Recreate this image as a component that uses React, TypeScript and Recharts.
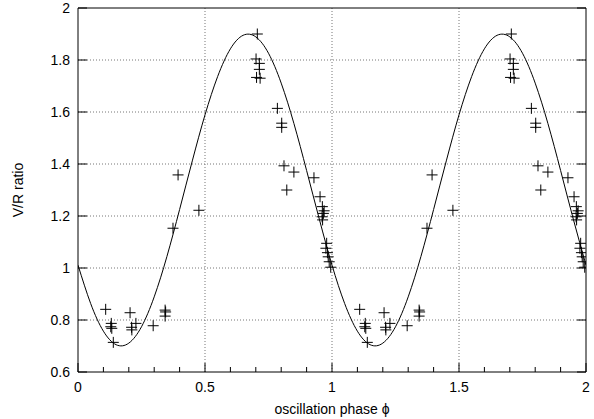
import React from "react";
import {
  ComposedChart,
  Line,
  Scatter,
  XAxis,
  YAxis,
  ReferenceLine,
} from "recharts";

// Model curve, every 0.05 in phase
const curveX = [
  0, 0.05, 0.1, 0.15, 0.2, 0.25, 0.3, 0.35, 0.4, 0.45, 0.5, 0.55, 0.6, 0.65, 0.7,
  0.75, 0.8, 0.85, 0.9, 0.95, 1.0, 1.05, 1.1, 1.15, 1.2, 1.25, 1.3, 1.35, 1.4,
  1.45, 1.5, 1.55, 1.6, 1.65, 1.7, 1.75, 1.8, 1.85, 1.9, 1.95, 2.0,
];
const curveY = [
  1.011, 0.863, 0.757, 0.705, 0.711, 0.774, 0.889, 1.044, 1.225, 1.412, 1.589,
  1.737, 1.843, 1.895, 1.889, 1.826, 1.711, 1.556, 1.375, 1.188, 1.011, 0.863,
  0.757, 0.705, 0.711, 0.774, 0.889, 1.044, 1.225, 1.412, 1.589, 1.737, 1.843,
  1.895, 1.889, 1.826, 1.711, 1.556, 1.375, 1.188, 1.011,
];

// Observed V/R ratios (first cycle)
const obsPhase1 = [
  0.109, 0.131, 0.129, 0.133, 0.139, 0.205, 0.211, 0.212, 0.228, 0.296, 0.343,
  0.345, 0.343, 0.374, 0.394, 0.476, 0.706, 0.701, 0.714, 0.714, 0.703, 0.717,
  0.785, 0.802, 0.802, 0.811, 0.85, 0.822, 0.929, 0.953, 0.962, 0.969, 0.966,
  0.961, 0.963, 0.979, 0.976, 0.982, 0.985, 0.989, 0.995,
];
const obsRatio1 = [
  0.841, 0.787, 0.774, 0.768, 0.714, 0.828, 0.772, 0.762, 0.787, 0.778, 0.838,
  0.831, 0.815, 1.153, 1.358, 1.222, 1.9, 1.804, 1.787, 1.764, 1.733, 1.73,
  1.614, 1.557, 1.541, 1.393, 1.369, 1.3, 1.347, 1.274, 1.236, 1.22, 1.21,
  1.197, 1.185, 1.095, 1.076, 1.059, 1.043, 1.024, 1.003,
];
// Observed V/R ratios (second cycle)
const obsPhase2 = [
  1.109, 1.131, 1.129, 1.133, 1.139, 1.205, 1.211, 1.212, 1.228, 1.296, 1.343,
  1.345, 1.343, 1.374, 1.394, 1.476, 1.706, 1.701, 1.714, 1.714, 1.703, 1.717,
  1.785, 1.802, 1.802, 1.811, 1.85, 1.822, 1.929, 1.953, 1.962, 1.969, 1.966,
  1.961, 1.963, 1.979, 1.976, 1.982, 1.985, 1.989, 1.995,
];
const obsRatio2 = [
  0.841, 0.787, 0.774, 0.768, 0.714, 0.828, 0.772, 0.762, 0.787, 0.778, 0.838,
  0.831, 0.815, 1.153, 1.358, 1.222, 1.9, 1.804, 1.787, 1.764, 1.733, 1.73,
  1.614, 1.557, 1.541, 1.393, 1.369, 1.3, 1.347, 1.274, 1.236, 1.22, 1.21,
  1.197, 1.185, 1.095, 1.076, 1.059, 1.043, 1.024, 1.003,
];

const xTicks = [
  0, 0.1, 0.2, 0.3, 0.4, 0.5, 0.6, 0.7, 0.8, 0.9, 1, 1.1, 1.2, 1.3, 1.4, 1.5,
  1.6, 1.7, 1.8, 1.9, 2,
];
const yTicks = [0.6, 0.8, 1, 1.2, 1.4, 1.6, 1.8, 2];
const gridX = [0.5, 1, 1.5];
const gridY = [0.8, 1, 1.2, 1.4, 1.6, 1.8];

const lineData = curveX.map((x, i) => ({ x, y: curveY[i] }));
const obsData = [
  ...obsPhase1.map((x, i) => ({ x, y: obsRatio1[i] })),
  ...obsPhase2.map((x, i) => ({ x, y: obsRatio2[i] })),
];

const FONT = "'Liberation Sans', Arial, Helvetica, sans-serif";
const isMajor = (v: number) => Math.abs(v * 2 - Math.round(v * 2)) < 1e-6;

const BottomTick = (props: any) => {
  const { x, y, payload } = props;
  const v = payload.value;
  const major = isMajor(v);
  return (
    <g>
      <line x1={x} x2={x} y1={y} y2={y - (major ? 9 : 5)} stroke="#000" strokeWidth={1} />
      {major && (
        <text x={x} y={y + 20} textAnchor="middle" fontSize={14} fontFamily={FONT} fill="#000">
          {String(v)}
        </text>
      )}
    </g>
  );
};

const TopTick = (props: any) => {
  const { x, y, payload } = props;
  const major = isMajor(payload.value);
  return <line x1={x} x2={x} y1={y} y2={y + (major ? 9 : 5)} stroke="#000" strokeWidth={1} />;
};

const LeftTick = (props: any) => {
  const { x, y, payload } = props;
  return (
    <g>
      <line x1={x} x2={x + 9} y1={y} y2={y} stroke="#000" strokeWidth={1} />
      <text x={x - 8} y={y + 5} textAnchor="end" fontSize={14} fontFamily={FONT} fill="#000">
        {String(payload.value)}
      </text>
    </g>
  );
};

const RightTick = (props: any) => {
  const { x, y } = props;
  return <line x1={x} x2={x - 9} y1={y} y2={y} stroke="#000" strokeWidth={1} />;
};

const Cross = (props: any) => {
  const { cx, cy } = props;
  if (cx == null || cy == null) return null;
  const h = 5.5;
  return (
    <path
      d={`M${cx - h},${cy}H${cx + h}M${cx},${cy - h}V${cy + h}`}
      stroke="#000"
      strokeWidth={1}
      fill="none"
    />
  );
};

export default function App() {
  return (
    <div style={{ position: "absolute", left: 0, top: 0, background: "#fff" }}>
      <ComposedChart
        width={594}
        height={419}
        margin={{ top: 0, right: 0, bottom: 0, left: 0 }}
      >
        <XAxis
          dataKey="x"
          type="number"
          domain={[0, 2]}
          ticks={xTicks}
          interval={0}
          height={47}
          tickSize={0}
          tickMargin={0}
          tickLine={false}
          axisLine={{ stroke: "#000", strokeWidth: 1 }}
          tick={<BottomTick />}
          allowDataOverflow
        />
        <XAxis
          xAxisId="top"
          orientation="top"
          type="number"
          domain={[0, 2]}
          ticks={xTicks}
          interval={0}
          height={8}
          tickSize={0}
          tickMargin={0}
          tickLine={false}
          axisLine={{ stroke: "#000", strokeWidth: 1 }}
          tick={<TopTick />}
          allowDataOverflow
        />
        <YAxis
          type="number"
          domain={[0.6, 2]}
          ticks={yTicks}
          interval={0}
          width={78}
          tickSize={0}
          tickMargin={0}
          tickLine={false}
          axisLine={{ stroke: "#000", strokeWidth: 1 }}
          tick={<LeftTick />}
          allowDataOverflow
        />
        <YAxis
          yAxisId="right"
          orientation="right"
          type="number"
          domain={[0.6, 2]}
          ticks={yTicks}
          interval={0}
          width={8}
          tickSize={0}
          tickMargin={0}
          tickLine={false}
          axisLine={{ stroke: "#000", strokeWidth: 1 }}
          tick={<RightTick />}
          allowDataOverflow
        />
        {gridX.map((g) => (
          <ReferenceLine key={`gx${g}`} x={g} stroke="#777" strokeDasharray="1 2" strokeWidth={1} />
        ))}
        {gridY.map((g) => (
          <ReferenceLine key={`gy${g}`} y={g} stroke="#777" strokeDasharray="1 2" strokeWidth={1} />
        ))}
        <Line
          data={lineData}
          dataKey="y"
          type="natural"
          stroke="#000"
          strokeWidth={1}
          dot={false}
          activeDot={false}
          isAnimationActive={false}
        />
        <Scatter data={obsData} dataKey="y" shape={<Cross />} isAnimationActive={false} />
        <text x={332} y={414} textAnchor="middle" fontSize={14} fontFamily={FONT} fill="#000">
          oscillation phase ϕ
        </text>
        <text
          x={23}
          y={190}
          textAnchor="middle"
          fontSize={14}
          fontFamily={FONT}
          fill="#000"
          transform="rotate(-90 23 190)"
        >
          V/R ratio
        </text>
      </ComposedChart>
    </div>
  );
}
